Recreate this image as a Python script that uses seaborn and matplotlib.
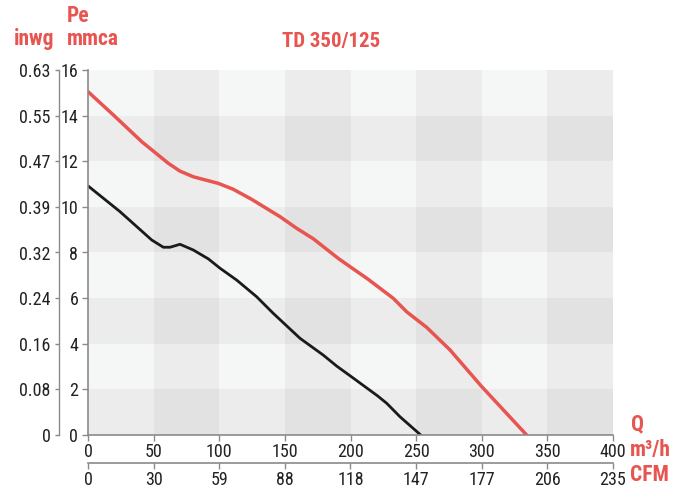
import matplotlib
matplotlib.use("Agg")
import matplotlib.pyplot as plt
import seaborn as sns
import numpy as np
import pandas as pd
from matplotlib.colors import ListedColormap

# ---- data ----
q_red = [0, 19.3, 40.9, 61.2, 70, 80.2, 99.3, 110.7, 124.7, 146.3, 159, 171.7, 190.7,
         199.6, 213.6, 232.6, 242.8, 258, 275.8, 300, 334.2]
pe_red = [15.05, 14.03, 12.86, 11.91, 11.57, 11.32, 11.03, 10.77, 10.33, 9.57, 9.06, 8.6, 7.74,
          7.38, 6.82, 5.99, 5.4, 4.72, 3.73, 2.12, 0]
q_black = [0, 24.4, 48.5, 57.4, 62.5, 70.1, 80.2, 91.7, 100.6, 113.3, 128.5, 141.2, 161.5,
           179.3, 189.5, 201.5, 220.5, 227.6, 237.7, 253.5]
pe_black = [10.92, 9.79, 8.55, 8.23, 8.23, 8.36, 8.11, 7.72, 7.31, 6.79, 6.06, 5.33, 4.24,
            3.5, 3.02, 2.52, 1.72, 1.39, 0.8, 0]
x_ticks = [0, 50, 100, 150, 200, 250, 300, 350, 400]
cfm_labels = ["0", "30", "59", "88", "118", "147", "177", "206", "235"]
y_ticks = [0, 2, 4, 6, 8, 10, 12, 14, 16]
inwg_labels = ["0", "0.08", "0.16", "0.24", "0.32", "0.39", "0.47", "0.55", "0.63"]
title = "TD 350/125"

sns.set_theme(style="white")
FAM = ["Roboto Condensed", "DejaVu Sans"]
plt.rcParams["font.family"] = FAM

RED = "#e85450"
TXT = "#222222"
SPN = "#8a8a8a"

fig = plt.figure(figsize=(6.91, 4.98), dpi=100)
ax = fig.add_axes([88/691, 63/498, 525/691, 365/498])

# checkerboard background
shades = ["#f5f6f6", "#ececec", "#e2e2e2"]
ncol = len(x_ticks) - 1
nrow = len(y_ticks) - 1
lvl = np.zeros((nrow, ncol))
for r in range(nrow):
    for c in range(ncol):
        lvl[r, c] = (1 if r % 2 == 0 else 0) + c % 2
ax.pcolormesh(x_ticks, y_ticks, lvl, cmap=ListedColormap(shades), vmin=-0.5, vmax=2.5,
              shading="flat", zorder=0)

df_r = pd.DataFrame({"q": q_red, "pe": pe_red})
df_b = pd.DataFrame({"q": q_black, "pe": pe_black})
sns.lineplot(data=df_r, x="q", y="pe", ax=ax, color=RED, lw=2.5, sort=False, estimator=None)
sns.lineplot(data=df_b, x="q", y="pe", ax=ax, color="#1a1a1a", lw=2.0, sort=False, estimator=None)

ax.set_xlim(0, 400)
ax.set_ylim(0, 16)
ax.set_xlabel("")
ax.set_ylabel("")
ax.set_xticks(x_ticks)
ax.set_yticks(y_ticks)
ax.set_xticklabels([str(v) for v in x_ticks])
ax.set_yticklabels([str(v) for v in y_ticks])
for s in ["top", "right"]:
    ax.spines[s].set_visible(False)
for s in ["left", "bottom"]:
    ax.spines[s].set_color(SPN)
    ax.spines[s].set_linewidth(1.2)
ax.tick_params(axis="both", direction="out", length=4, width=1, color=SPN,
               labelsize=13, labelcolor=TXT, pad=2, bottom=True, left=True)
ax.tick_params(axis="y", pad=3)

# secondary axes
sec_x = ax.secondary_xaxis(-28/365)
sec_x.set_xticks(x_ticks)
sec_x.set_xticklabels(cfm_labels)
sec_x.spines["bottom"].set_color(SPN)
sec_x.spines["bottom"].set_linewidth(1.2)
sec_x.tick_params(direction="out", length=4, width=1, color=SPN, labelsize=13,
                  labelcolor=TXT, pad=2)

sec_y = ax.secondary_yaxis(-29/525)
sec_y.set_yticks(y_ticks)
sec_y.set_yticklabels(inwg_labels)
sec_y.spines["left"].set_color(SPN)
sec_y.spines["left"].set_linewidth(1.0)
sec_y.tick_params(direction="out", length=3, width=1, color=SPN, labelsize=13,
                  labelcolor=TXT, pad=3)

def ftxt(x, y, s, size=15.5, **kw):
    fig.text(x/691, 1 - y/498, s, color=RED, fontsize=size, fontweight="bold",
             family=FAM, va="center", **kw)

ftxt(67, 16, "Pe", ha="left")
ftxt(67, 39, "mmca", ha="left")
ftxt(14, 39, "inwg", ha="left")
ftxt(331, 42, title, size=15, ha="center")
ftxt(631, 424, "Q", ha="left")
ftxt(630, 450, "m³/h", ha="left")
ftxt(630, 475, "CFM", ha="left")

fig.savefig("out.png", dpi=100)
